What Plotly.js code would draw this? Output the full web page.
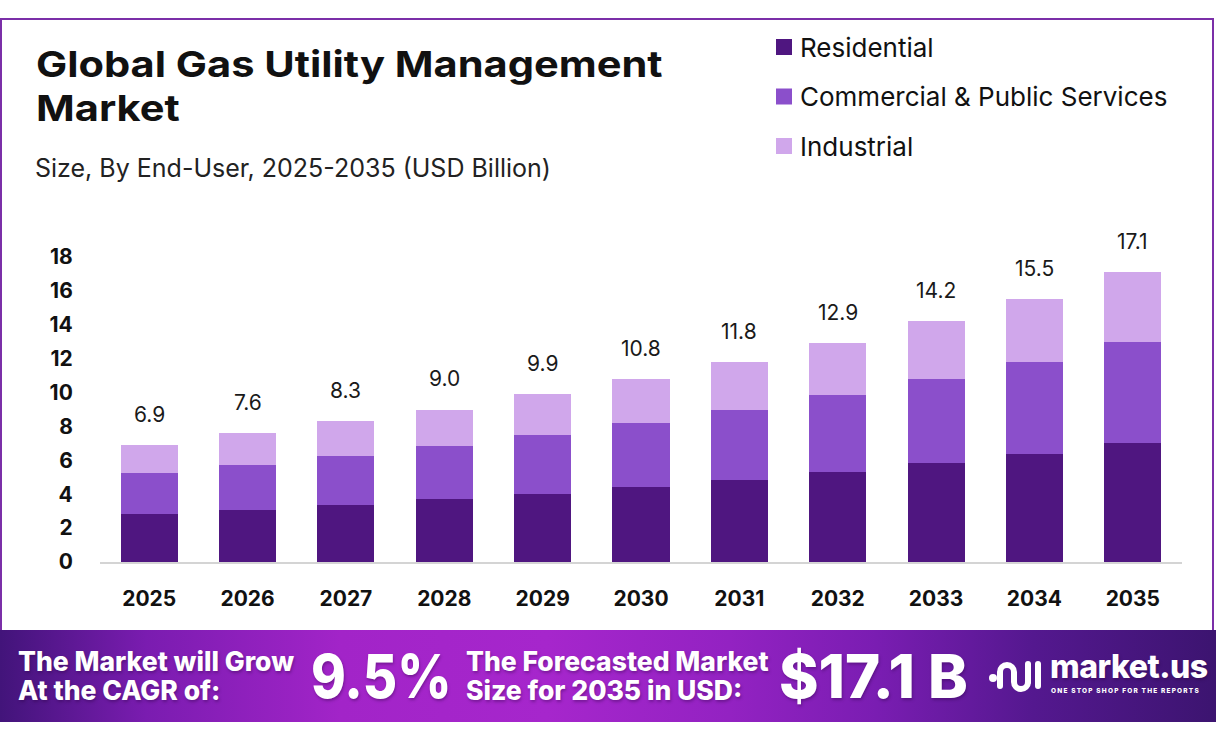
<!DOCTYPE html>
<html>
<head>
<meta charset="utf-8">
<script src="https://cdn.plot.ly/plotly-3.0.1.min.js"></script>
<style>
  html, body { margin:0; padding:0; background:#fff; }
  #wrap { position:relative; width:1216px; height:743px; overflow:hidden; background:#fff; font-family: Inter, "Open Sans", sans-serif; }
  #frame { position:absolute; left:0; top:18px; width:1210px; height:612px; border:2px solid #7b2fa8; border-bottom:none; background:#fff; }
  #chart { position:absolute; left:0; top:0; width:1216px; height:743px; }
  #title { position:absolute; left:36px; top:42px; font-size:36px; line-height:44px; font-weight:700; color:#111; white-space:nowrap;
    transform:scaleX(1.155); transform-origin:left top; }
  #banner { position:absolute; left:0; top:630px; width:1216px; height:92px;
    background:linear-gradient(90deg,#42147a 0%,#7a1cb0 12%,#a224c8 28%,#a626cc 45%,#9322c2 60%,#7a1db2 72%,#54188f 85%,#3c1470 100%); color:#fff; }
  .b { position:absolute; font-weight:800; color:#fff; white-space:nowrap; text-shadow:1px 2px 3px rgba(40,0,60,0.35); }
  .two { font-size:26.5px; line-height:29px; top:17px; transform-origin:left top; }
  .big { font-size:60px; line-height:60px; top:16px; transform-origin:left top; }
</style>
</head>
<body>
<div id="wrap">
  <div id="frame"></div>
  <div id="chart"></div>
  <div id="title">Global Gas Utility Management<br>Market</div>
  <div id="banner">
    <div class="b two" style="left:18px;">The Market will Grow<br>At the CAGR of:</div>
    <div class="b big" style="left:311px;transform:scaleX(0.88);">9.5%</div>
    <div class="b two" style="left:466px;">The Forecasted Market<br>Size for 2035 in USD:</div>
    <div class="b big" style="left:779px;">$17.1 B</div>
    <svg style="position:absolute;left:988px;top:26px;" width="56" height="42" viewBox="0 0 56 42">
      <circle cx="5" cy="22" r="4" fill="#fff"/>
      <path d="M12 30 V16 a7 7 0 0 1 14 0 V26 a7 7 0 0 0 14 0" stroke="#fff" stroke-width="6" fill="none" stroke-linecap="round"/>
      <path d="M40 8 V26" stroke="#fff" stroke-width="6" fill="none" stroke-linecap="round"/>
      <path d="M50 8 V30" stroke="#fff" stroke-width="6" fill="none" stroke-linecap="round"/>
    </svg>
    <div class="b" style="left:1050px;top:19px;font-size:32px;line-height:36px;letter-spacing:-0.5px;">market.us</div>
    <div class="b" style="left:1051px;top:57px;font-size:6.5px;line-height:8px;letter-spacing:1.2px;text-shadow:none;">ONE STOP SHOP FOR THE REPORTS</div>
  </div>
</div>
<script>
const years = ['2025','2026','2027','2028','2029','2030','2031','2032','2033','2034','2035'];
const residential = [2.85,3.07,3.36,3.72,4.01,4.42,4.84,5.31,5.84,6.37,7.02];
const commercial  = [2.40,2.65,2.90,3.12,3.48,3.80,4.13,4.54,4.96,5.43,5.96];
const industrial  = [1.65,1.88,2.04,2.16,2.41,2.58,2.83,3.05,3.40,3.70,4.12];
const totals      = [6.9,7.6,8.3,9.0,9.9,10.8,11.8,12.9,14.2,15.5,17.1];
const seriesNames = ['Residential','Commercial & Public Services','Industrial'];
const seriesColors = ['#4f1680','#8b4fcb','#d0a7eb'];
const yTicks = [0,2,4,6,8,10,12,14,16,18];

const W = 1216, H = 743;
const M = {l:100, r:34, t:230, b:181};
const PW = W - M.l - M.r, PH = H - M.t - M.b;
const px = x => (x - M.l) / PW;
const py = y => (H - M.b - y) / PH;

const FONT = 'Inter, "Open Sans", sans-serif';
const seriesData = [residential, commercial, industrial];
const xIdx = years.map((_, i) => i);

const traces = seriesData.map((vals, i) => ({
  type:'bar', x: xIdx, y: vals, name: seriesNames[i],
  marker:{color: seriesColors[i], line:{width:0}},
  width:0.58, showlegend:false, hoverinfo:'skip'
}));

const annotations = [];
totals.forEach((t, i) => annotations.push({
  x: i, y: t, xref:'x', yref:'y', text: t.toFixed(1), showarrow:false,
  yshift:31, yanchor:'middle', font:{family:FONT, size:21, color:'#1a1a1a'}
}));
annotations.push({xref:'paper', yref:'paper', x:px(33), y:py(168), xanchor:'left', yanchor:'middle',
  text:'Size, By End-User, 2025-2035 (USD Billion)', showarrow:false, font:{family:FONT, size:25, color:'#222'}});

const shapes = [];
seriesNames.forEach((n, i) => {
  const cy = 47 + i * 49.5;
  shapes.push({type:'rect', xref:'paper', yref:'paper', x0:px(776), x1:px(792), y0:py(cy+8), y1:py(cy-8),
    fillcolor: seriesColors[i], line:{width:0}});
  annotations.push({xref:'paper', yref:'paper', x:px(798), y:py(cy), xanchor:'left', yanchor:'middle',
    text:n, showarrow:false, font:{family:FONT, size:26, color:'#111'}});
});

const layout = {
  width:W, height:H, margin:M, barmode:'stack',
  paper_bgcolor:'rgba(0,0,0,0)', plot_bgcolor:'rgba(0,0,0,0)',
  showlegend:false,
  xaxis:{range:[-0.5, years.length - 0.5], showgrid:false, zeroline:false, showline:true, linecolor:'#d4d4d4', linewidth:2,
    tickmode:'array', tickvals:xIdx, ticktext:years,
    ticks:'outside', ticklen:17, tickcolor:'rgba(0,0,0,0)',
    tickfont:{family:FONT, size:21, color:'#111', weight:'bold'}, fixedrange:true},
  yaxis:{range:[0, PH/16.94], showgrid:false, zeroline:false, showline:false,
    tickmode:'array', tickvals:yTicks, ticktext:yTicks.map(String),
    ticks:'outside', ticklen:22, tickcolor:'rgba(0,0,0,0)',
    tickfont:{family:FONT, size:21, color:'#111', weight:'bold'}, fixedrange:true},
  annotations, shapes
};
Plotly.newPlot('chart', traces, layout, {staticPlot:true, displayModeBar:false});
</script>
</body>
</html>
